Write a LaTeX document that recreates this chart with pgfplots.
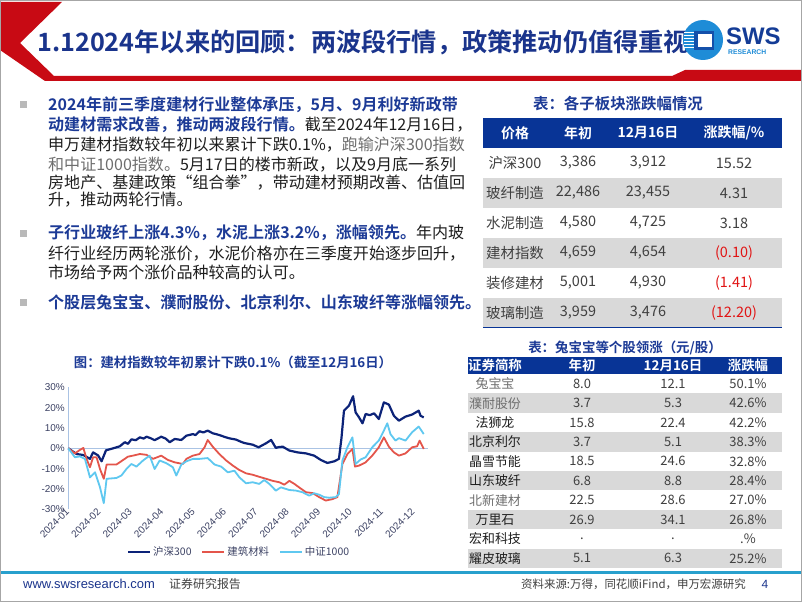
\documentclass[border=0pt]{standalone}
\usepackage{pgfplots}
\pgfplotsset{compat=1.18}
\usepackage{fontspec}
\setmainfont[BoldFont={Noto Sans CJK SC Bold}]{Noto Sans CJK SC}
\newfontfamily\arial{Liberation Sans}
\definecolor{titleblue}{RGB}{26,52,140}
\definecolor{hdrblue}{RGB}{8,52,150}
\definecolor{boldblue}{RGB}{28,58,150}
\definecolor{swsred}{RGB}{200,10,20}
\definecolor{rowgrey}{RGB}{217,217,217}
\definecolor{negred}{RGB}{225,20,20}
\definecolor{bodytxt}{RGB}{64,64,64}
\definecolor{hsblue}{RGB}{12,35,120}
\definecolor{jcred}{RGB}{228,85,75}
\definecolor{zzcyan}{RGB}{95,200,240}
\definecolor{axisblue}{RGB}{170,195,228}
\definecolor{footcyan}{RGB}{40,160,205}
\definecolor{ticktxt}{RGB}{60,66,100}
\definecolor{txtblack}{RGB}{30,30,30}
\definecolor{txtgrey}{RGB}{110,110,110}
\newcommand\B[1]{{\color{boldblue}\bfseries #1}}
\newcommand\G[1]{{\color{txtgrey}#1}}
\begin{document}
\begin{tikzpicture}[x=1bp,y=1bp]
\path[use as bounding box] (0,0) rectangle (802,-602);
\fill[white] (0,0) rectangle (802,-602);
% header
\fill[swsred] (0,-2) -- (62,-2) -- (20,-43) -- (54,-76) -- (672,-76) -- (685,-70) -- (802,-70) -- (802,-81) -- (45,-81) -- (0,-50) -- cycle;
\node[anchor=west, text=titleblue, font=\fontsize{25.3}{25}\selectfont\bfseries, inner sep=0] at (37,-42) {1.12024年以来的回顾：两波段行情，政策推动仍值得重视};
% logo
\fill[color={rgb,255:red,30;green,140;blue,215}] (703,-40) circle (20);
\fill[color={rgb,255:red,20;green,80;blue,170}] (694,-31) rectangle (714,-50);
\fill[white] (698,-34) rectangle (712,-47);
\foreach \yy in {-33,-36,-39,-42,-45,-48} {\draw[white, line width=1bp] (684,\yy) -- (694,\yy);}
\node[anchor=west, inner sep=0, text={rgb,255:red,20;green,60;blue,150}, font=\arial\fontsize{24}{24}\selectfont\bfseries] at (726,-36) {SWS};
\node[anchor=west, inner sep=0, text={rgb,255:red,30;green,140;blue,215}, font=\arial\fontsize{6.8}{7}\selectfont\bfseries] at (728,-52) {RESEARCH};
% bullets
\foreach \yy in {105,233,302} {\fill[gray!55] (20,-\yy+3.5) rectangle (27,-\yy-3.5);}
\begin{scope}[every node/.style={anchor=base west, inner sep=0, font=\fontsize{16.1}{19}\selectfont, text=txtblack}]
\node at (48,-111) {\B{2024年前三季度建材行业整体承压，5月、9月利好新政带}};
\node at (48,-131) {\B{动建材需求改善，推动两波段行情。}截至2024年12月16日，};
\node at (48,-151) {申万建材指数较年初以来累计下跌0.1\%，\G{跑输沪深300指数}};
\node at (48,-171) {\G{和中证1000指数。}5月17日的楼市新政，以及9月底一系列};
\node at (48,-189) {房地产、基建政策“组合拳”，带动建材预期改善、估值回};
\node at (48,-206) {升，推动两轮行情。};
\node at (48,-239) {\B{子行业玻纤上涨4.3\%，水泥上涨3.2\%，涨幅领先。}年内玻};
\node at (48,-259) {纤行业经历两轮涨价，水泥价格亦在三季度开始逐步回升，};
\node at (48,-278) {市场给予两个涨价品种较高的认可。};
\node at (48,-308) {\B{个股层兔宝宝、濮耐股份、北京利尔、山东玻纤等涨幅领先。}};
\end{scope}
% table 1
\node[text=boldblue, font=\fontsize{15.5}{16}\selectfont\bfseries] at (618,-104) {表：各子板块涨跌幅情况};
\fill[hdrblue] (483,-118) rectangle (782,-148);
\foreach \yy in {178,238,298} {\fill[rowgrey] (483,-\yy) rectangle (782,-\yy-30);}
\draw[hdrblue, line width=1.5bp] (483,-327.5) -- (782,-327.5);
\begin{scope}[every node/.style={font=\fontsize{14}{15}\selectfont\bfseries, text=white, inner sep=0}]
\node at (515,-133) {价格};
\node at (578,-133) {年初};
\node at (648,-133) {12月16日};
\node at (734,-133) {涨跌幅/\%};
\end{scope}
\begin{scope}[every node/.style={font=\fontsize{14.5}{15}\selectfont, text=bodytxt, inner sep=0}]
\node at (515,-163) {沪深300};  \node at (578,-163) {3,386};  \node at (648,-163) {3,912};  \node at (734,-163) {15.52};
\node at (515,-193) {玻纤制造}; \node at (578,-193) {22,486}; \node at (648,-193) {23,455}; \node at (734,-193) {4.31};
\node at (515,-223) {水泥制造}; \node at (578,-223) {4,580};  \node at (648,-223) {4,725};  \node at (734,-223) {3.18};
\node at (515,-253) {建材指数}; \node at (578,-253) {4,659};  \node at (648,-253) {4,654};  \node[text=negred] at (734,-253) {(0.10)};
\node at (515,-283) {装修建材}; \node at (578,-283) {5,001};  \node at (648,-283) {4,930};  \node[text=negred] at (734,-283) {(1.41)};
\node at (515,-313) {玻璃制造}; \node at (578,-313) {3,959};  \node at (648,-313) {3,476};  \node[text=negred] at (734,-313) {(12.20)};
\end{scope}
% table 2
\node[text=boldblue, font=\fontsize{13.5}{14}\selectfont\bfseries] at (625,-348) {表：兔宝宝等个股领涨（元/股）};
\fill[hdrblue] (468,-357) rectangle (782,-374);
\foreach \i in {2,4,6,8,10} {\fill[rowgrey] (468,{-374-19.4*(\i-1)}) rectangle (782,{-374-19.4*\i});}
\begin{scope}[every node/.style={font=\fontsize{13.5}{14}\selectfont\bfseries, text=white, inner sep=0}]
\node at (495,-365.5) {证券简称};
\node at (582,-365.5) {年初};
\node at (673,-365.5) {12月16日};
\node at (748,-365.5) {涨跌幅};
\end{scope}
\begin{scope}[every node/.style={font=\fontsize{13}{14}\selectfont, text=bodytxt, inner sep=0}]
\node[text=txtgrey] at (495,-383.7) {兔宝宝};   \node at (582,-383.7) {8.0};  \node at (673,-383.7) {12.1}; \node at (748,-383.7) {50.1\%};
\node[text=txtgrey] at (495,-403.1) {濮耐股份}; \node at (582,-403.1) {3.7};  \node at (673,-403.1) {5.3};  \node at (748,-403.1) {42.6\%};
\node[text=txtblack] at (495,-422.5) {法狮龙};   \node at (582,-422.5) {15.8}; \node at (673,-422.5) {22.4}; \node at (748,-422.5) {42.2\%};
\node[text=txtblack] at (495,-441.9) {北京利尔}; \node at (582,-441.9) {3.7};  \node at (673,-441.9) {5.1};  \node at (748,-441.9) {38.3\%};
\node[text=txtblack] at (495,-461.3) {晶雪节能}; \node at (582,-461.3) {18.5}; \node at (673,-461.3) {24.6}; \node at (748,-461.3) {32.8\%};
\node[text=txtblack] at (495,-480.7) {山东玻纤}; \node at (582,-480.7) {6.8};  \node at (673,-480.7) {8.8};  \node at (748,-480.7) {28.4\%};
\node[text=txtgrey] at (495,-500.1) {北新建材}; \node at (582,-500.1) {22.5}; \node at (673,-500.1) {28.6}; \node at (748,-500.1) {27.0\%};
\node[text=txtblack] at (495,-519.5) {万里石};   \node at (582,-519.5) {26.9}; \node at (673,-519.5) {34.1}; \node at (748,-519.5) {26.8\%};
\node[text=txtblack] at (495,-538.9) {宏和科技}; \node at (582,-538.9) {.};    \node at (673,-538.9) {.};    \node at (748,-538.9) {.\%};
\node[text=txtblack] at (495,-558.3) {耀皮玻璃}; \node at (582,-558.3) {5.1};  \node at (673,-558.3) {6.3};  \node at (748,-558.3) {25.2\%};
\end{scope}
% chart title
\node[text=boldblue, font=\fontsize{13.4}{14}\selectfont\bfseries] at (233,-362) {图：建材指数较年初累计下跌0.1\%（截至12月16日）};
% chart
\begin{axis}[
  at={(68.3bp,-509.3bp)}, anchor=south west,
  scale only axis, width=359.5bp, height=122bp,
  xmin=0, xmax=11.45, ymin=-30, ymax=30,
  axis x line*=bottom, x axis line style={draw=none},
  axis y line*=left, y axis line style={draw=axisblue, line width=0.8bp},
  major tick length=0pt,
  xtick={0,...,11},
  xticklabels={2024-01,2024-02,2024-03,2024-04,2024-05,2024-06,2024-07,2024-08,2024-09,2024-10,2024-11,2024-12},
  xticklabel style={rotate=45, anchor=east, font=\arial\fontsize{10}{10}\selectfont, text=ticktxt, inner sep=1bp},
  ytick={-30,-20,...,30},
  yticklabel={\pgfmathprintnumber{\tick}\%},
  yticklabel style={font=\arial\fontsize{10}{10}\selectfont, text=ticktxt},
  /pgf/number format/assume math mode=true,
  clip=false,
  legend columns=3,
  legend style={draw=none, fill=none, at={(0.475,-0.35)}, anchor=center, font=\fontsize{10.5}{11}\selectfont, text=ticktxt,
    /tikz/every even column/.append style={column sep=8bp}},
  legend image code/.code={\draw[#1] (0bp,0bp) -- (22bp,0bp);},
]
\draw[axisblue, line width=0.8bp] (axis cs:0,0) -- (axis cs:11.45,0);
\addplot[hsblue, line width=2.2bp, line join=round] coordinates {
(0,0) (0.26,-2.8) (0.48,-3.3) (0.69,-5.2) (0.79,-2) (0.95,-3.5) (1.06,-6.4) (1.20,-1) (1.43,0) (1.64,1) (1.80,3) (1.90,2.2) (2.01,4.4) (2.15,4.0) (2.28,5.4) (2.40,4.8) (2.49,5.7) (2.62,5.0) (2.75,4) (2.96,5.7) (3.10,4.8) (3.23,3) (3.39,4.6) (3.60,4.1) (3.76,6.2) (3.97,7) (4.05,6.5) (4.18,8.4) (4.30,7.8) (4.44,8.7) (4.60,7.4) (4.75,6.8) (4.87,6.2) (5.00,5.5) (5.13,4.9) (5.34,4.3) (5.50,3.2) (5.61,2.6) (5.87,1.8) (6.06,0.5) (6.30,2.5) (6.46,4.1) (6.61,0.2) (6.70,0.6) (6.83,0.8) (7.04,-1.1) (7.30,-2) (7.57,-2.5) (7.83,-3.6) (8.04,-5.7) (8.25,-7.2) (8.47,-6.4) (8.62,-5.2) (8.70,5.0) (8.78,18.5) (8.94,21) (9.07,25.6) (9.15,17.7) (9.26,15.2) (9.37,12.3) (9.47,16.9) (9.60,16.3) (9.74,17.2) (9.89,14.4) (10.05,22.6) (10.21,21.5) (10.37,16) (10.53,13.6) (10.74,15.6) (10.95,16.6) (11.16,18.5) (11.22,16.0) (11.32,15.2)};
\addlegendentry{沪深300}
\addplot[jcred, line width=1.8bp, line join=round] coordinates {
(0,0) (0.21,-2.5) (0.37,-0.8) (0.48,0.2) (0.58,-5.2) (0.69,-9.3) (0.79,-4.4) (0.90,-4.4) (1.01,-10.2) (1.13,-15) (1.22,-8) (1.53,-8) (1.75,-5.7) (1.90,-4.1) (2.06,-3.6) (2.28,-2.8) (2.49,-3.2) (2.70,-5.2) (2.96,-3.6) (3.17,-5.7) (3.39,-6.9) (3.65,-7.7) (3.76,-5.2) (3.97,-3.6) (4.18,-2.8) (4.34,0.5) (4.44,4.1) (4.60,0.8) (4.81,-2.8) (5.03,-6) (5.24,-8.5) (5.45,-10.7) (5.66,-12.3) (5.87,-13) (6.08,-14) (6.30,-15) (6.51,-16) (6.72,-16.7) (6.88,-17.9) (7.04,-16) (7.20,-17.5) (7.35,-19.2) (7.57,-21.6) (7.78,-22) (7.99,-24) (8.20,-25.7) (8.41,-25) (8.57,-24) (8.73,-7.7) (8.89,-2.8) (9.05,-0.3) (9.13,-9) (9.26,-8.5) (9.47,-6.9) (9.68,-3.6) (9.89,0.5) (10.05,5.4) (10.21,0.8) (10.37,-2) (10.53,-3.6) (10.74,-2.5) (10.95,0.5) (11.11,1) (11.19,3.8) (11.32,-0.3)};
\addlegendentry{建筑材料}
\addplot[zzcyan, line width=1.8bp, line join=round] coordinates {
(0,0) (0.21,-4.4) (0.37,-4) (0.53,-5.2) (0.69,-14.3) (0.85,-11.8) (1.01,-19.2) (1.13,-27) (1.22,-15) (1.53,-14.6) (1.69,-13.4) (1.85,-10.2) (2.01,-7.7) (2.17,-9) (2.38,-6) (2.59,-3.6) (2.75,-10.2) (2.91,-6) (3.12,-7.3) (3.33,-9.3) (3.44,-13.4) (3.60,-8) (3.76,-6.4) (3.97,-5.2) (4.18,-5.2) (4.44,-4.8) (4.66,-8) (4.87,-9) (5.08,-11.8) (5.29,-11) (5.45,-14.3) (5.66,-17.2) (5.87,-16.7) (6.08,-17.5) (6.24,-15.6) (6.40,-17.5) (6.61,-20.8) (6.77,-19.2) (7.04,-20.5) (7.25,-20.8) (7.46,-21.6) (7.67,-23.3) (7.83,-22.1) (7.99,-22.8) (8.15,-24) (8.31,-24.3) (8.52,-24) (8.62,-22.5) (8.73,-6) (8.89,0.5) (9.05,5.4) (9.15,-7.7) (9.31,-5.5) (9.47,-4.4) (9.68,0.5) (9.89,3.8) (10.05,8.7) (10.16,12.3) (10.26,7) (10.42,3.8) (10.53,5) (10.74,3.8) (10.95,7.9) (11.16,10.7) (11.32,7)};
\addlegendentry{中证1000}
\end{axis}
% footer
\fill[footcyan] (1,-570.5) rectangle (801,-573.5);
\node[anchor=west, inner sep=0, text=titleblue, font=\arial\fontsize{13}{13}\selectfont] at (23,-584) {www.swsresearch.com};
\node[anchor=west, inner sep=0, text=bodytxt, font=\fontsize{12}{12}\selectfont] at (169,-584) {证券研究报告};
\node[anchor=east, inner sep=0, text=bodytxt, font=\fontsize{11.5}{12}\selectfont] at (746,-584) {资料来源:万得，同花顺iFind，申万宏源研究};
\node[anchor=center, inner sep=0, text=titleblue, font=\arial\fontsize{12}{12}\selectfont] at (765,-584) {4};
% border
\draw[gray!70, line width=1.2bp] (0.6,-0.6) rectangle (801.4,-601.4);
\end{tikzpicture}
\end{document}
